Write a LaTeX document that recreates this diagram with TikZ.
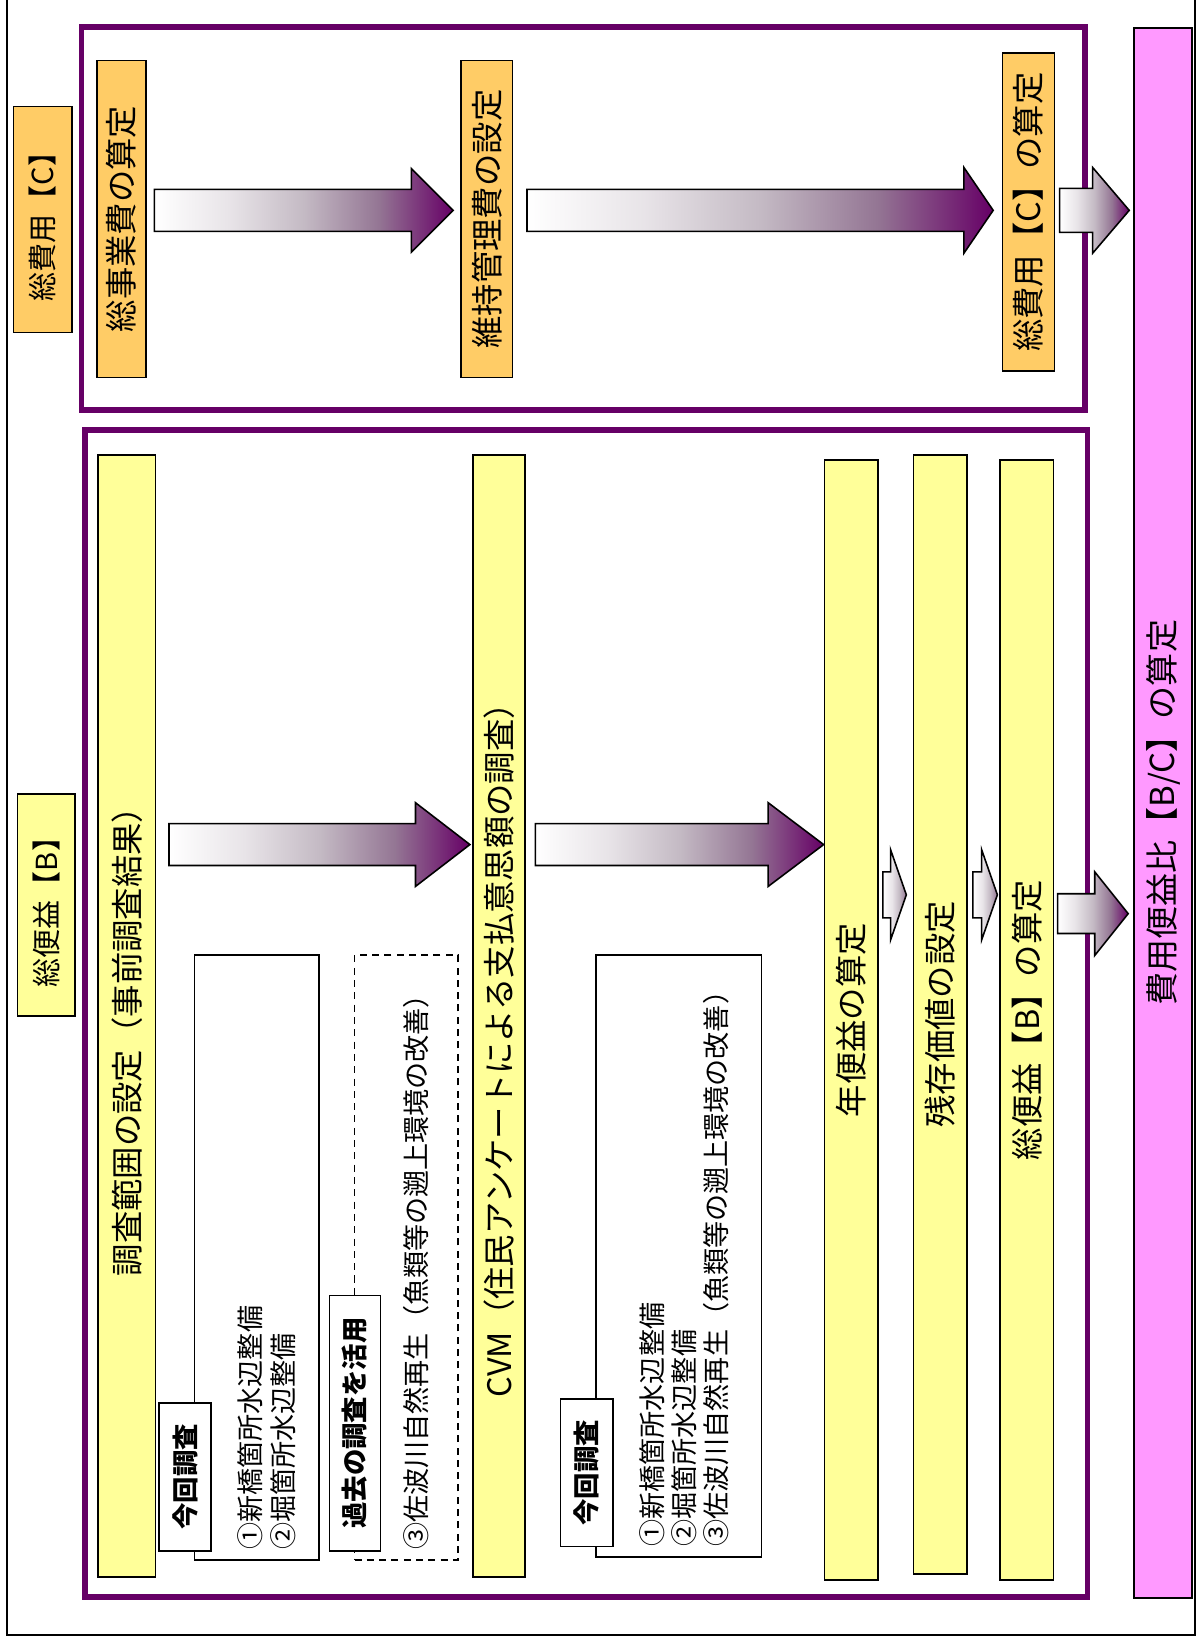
\documentclass[tikz,border=0pt]{standalone}
\usepackage{fontspec}
\setmainfont{Noto Sans CJK JP}
\usepackage{graphicx}
\usetikzlibrary{calc}

\definecolor{framepurple}{RGB}{102,0,102}
\definecolor{fadelight}{RGB}{232,228,232}
\definecolor{fadegray}{RGB}{196,186,196}
\definecolor{fademid}{RGB}{148,118,148}
\definecolor{costorange}{RGB}{255,204,102}
\definecolor{benefityellow}{RGB}{255,255,153}
\definecolor{ratiopink}{RGB}{255,153,255}

% white to purple along the arrow
\pgfdeclarehorizontalshading{arrowshade}{100bp}{color(0bp)=(white); color(25bp)=(white);
  color(37.5bp)=(fadelight); color(50bp)=(fadegray); color(62.5bp)=(fademid);
  color(75bp)=(framepurple); color(100bp)=(framepurple)}
\pgfdeclarehorizontalshading{smallshade}{100bp}{color(0bp)=(white); color(25bp)=(white);
  color(45bp)=(fadelight); color(60bp)=(fadegray); color(75bp)=(fademid); color(100bp)=(fademid)}

% one pixel of the sheet
\newcommand{\pxu}{0.020924cm}
\newcommand{\boxfont}{\fontsize{18.4}{22}\selectfont}
\newcommand{\listfont}{\fontsize{15.4}{18.4}\selectfont}
\newcommand{\tagfont}{\fontsize{15}{18}\selectfont\bfseries}
\newcommand{\labelfont}{\fontsize{16.5}{20}\selectfont}
\newcommand{\ratiofont}{\fontsize{18.8}{22}\selectfont}

% block arrow: start, tip, half shaft, half head, head length, style
\newcommand{\fatarrow}[6]{%
  \shade[#6] let \p1=#1, \p2=#2 in
    (\x1,\y1+#3) -- (\x2-#5,\y1+#3) -- (\x2-#5,\y1+#4) -- (\x2,\y1)
    -- (\x2-#5,\y1-#4) -- (\x2-#5,\y1-#3) -- (\x1,\y1-#3) -- cycle;}

\tikzset{
  box/.style={draw=black, line width=0.9pt, inner sep=0pt, anchor=north west, font=\boxfont},
  orangebox/.style={box, fill=costorange},
  yellowbox/.style={box, fill=benefityellow},
  whitebox/.style={box, fill=white},
  tagbox/.style={box, fill=white, font=\tagfont},
  listtext/.style={rotate=90, anchor=west, align=left, inner sep=0pt, font=\listfont},
  frame/.style={draw=framepurple, line width=3.2pt},
  arrowfill/.style={draw=black, line width=0.9pt, shading=arrowshade},
  smallfill/.style={draw=black, line width=0.9pt, shading=smallshade},
}

\begin{document}
\begin{tikzpicture}[x=\pxu, y=-\pxu]
  \useasboundingbox (0,0) rectangle (1148,1568);
  % sheet and group frames
  \draw[line width=1.2pt] (7,-10) rectangle (1142,1562);
  \draw[frame] (78,26) rectangle (1037,392);
  \draw[frame] (81,411) rectangle (1039,1526);

  % cost side
  \node[orangebox, minimum width=56*\pxu, minimum height=216*\pxu, font=\labelfont] (costlabel) at (12,101) {\rotatebox{90}{総費用【C】}};
  \node[orangebox, minimum width=47*\pxu, minimum height=303*\pxu] (projcost) at (92,57) {\rotatebox{90}{総事業費の算定}};
  \node[orangebox, minimum width=49*\pxu, minimum height=303*\pxu] (maintcost) at (440,57) {\rotatebox{90}{維持管理費の設定}};
  \node[orangebox, minimum width=50*\pxu, minimum height=304*\pxu] (totalcost) at (957,50) {\rotatebox{90}{総費用【C】の算定}};

  % ratio
  \node[box, fill=ratiopink, minimum width=55*\pxu, minimum height=1500*\pxu, font=\ratiofont] (ratio) at (1083,26) {\rotatebox{90}{費用便益比【B/C】の算定}};

  % benefit side
  \node[yellowbox, minimum width=55*\pxu, minimum height=212*\pxu, font=\labelfont] (benefitlabel) at (16,758) {\rotatebox{90}{総便益【B】}};
  \node[yellowbox, minimum width=55*\pxu, minimum height=1072*\pxu] (surveyrange) at (93,434) {\rotatebox{90}{調査範囲の設定（事前調査結果）\hspace{0.7cm}}};
  \node[yellowbox, minimum width=50*\pxu, minimum height=1072*\pxu] (cvm) at (451,434) {\rotatebox{90}{CVM（住民アンケートによる支払意思額の調査）\hspace{1.05cm}}};
  \node[yellowbox, minimum width=51*\pxu, minimum height=1070*\pxu] (annual) at (787,439) {\rotatebox{90}{年便益の算定}};
  \node[yellowbox, minimum width=51*\pxu, minimum height=1069*\pxu] (residual) at (872,434) {\rotatebox{90}{残存価値の設定}};
  \node[yellowbox, minimum width=51*\pxu, minimum height=1070*\pxu] (totalbenefit) at (955,439) {\rotatebox{90}{総便益【B】の算定}};

  % survey notes
  \node[whitebox, minimum width=119*\pxu, minimum height=578*\pxu] (surveyA) at (185,912) {};
  \node[tagbox, minimum width=50*\pxu, minimum height=141*\pxu] (surveyAtag) at (151,1340) {\rotatebox{90}{今回調査}};
  \node[listtext] (listA) at (255,1481) {①新橋箇所水辺整備\\②堀箇所水辺整備};

  \node[whitebox, dashed, dash pattern=on 4pt off 3pt, minimum width=99*\pxu, minimum height=578*\pxu] (pastbox) at (338,912) {};
  \node[tagbox, minimum width=49*\pxu, minimum height=244*\pxu] (pasttag) at (314,1237) {\rotatebox{90}{過去の調査を活用}};
  \node[listtext] (pastlist) at (398,1481) {③佐波川自然再生（魚類等の遡上環境の改善）};

  \node[whitebox, minimum width=158*\pxu, minimum height=575*\pxu] (surveyB) at (569,912) {};
  \node[tagbox, minimum width=50*\pxu, minimum height=141*\pxu] (surveyBtag) at (535,1336) {\rotatebox{90}{今回調査}};
  \node[listtext] (listB) at (654,1478) {①新橋箇所水辺整備\\②堀箇所水辺整備\\③佐波川自然再生（魚類等の遡上環境の改善）};

  % arrow rows
  \coordinate (uprow) at (0,201);
  \coordinate (lowrow) at (0,807);
  \coordinate (steprow) at (0,855);
  \coordinate (brow) at (0,873);

  \fatarrow{($(projcost.east |- uprow)+(7,0)$)}{($(maintcost.west |- uprow)+(-7,0)$)}{20*\pxu}{40*\pxu}{40*\pxu}{arrowfill}
  \fatarrow{($(maintcost.east |- uprow)+(13,0)$)}{($(totalcost.west |- uprow)+(-8,0)$)}{20*\pxu}{41*\pxu}{28*\pxu}{arrowfill}
  \fatarrow{($(totalcost.east |- uprow)+(4,0)$)}{($(ratio.west |- uprow)+(-4,0)$)}{21*\pxu}{41*\pxu}{35*\pxu}{arrowfill}

  \fatarrow{($(surveyrange.east |- lowrow)+(12,0)$)}{($(cvm.west |- lowrow)+(-2,0)$)}{20*\pxu}{40*\pxu}{52*\pxu}{arrowfill}
  \fatarrow{($(cvm.east |- lowrow)+(9,0)$)}{(annual.west |- lowrow)}{20*\pxu}{40*\pxu}{53*\pxu}{arrowfill}
  \fatarrow{($(annual.east |- steprow)+(4,0)$)}{($(residual.west |- steprow)+(-6,0)$)}{22*\pxu}{43*\pxu}{15*\pxu}{smallfill}
  \fatarrow{($(residual.east |- steprow)+(5,0)$)}{($(totalbenefit.west |- steprow)+(-2,0)$)}{22*\pxu}{43*\pxu}{15*\pxu}{smallfill}
  \fatarrow{($(totalbenefit.east |- brow)+(3,0)$)}{($(ratio.west |- brow)+(-5,0)$)}{19*\pxu}{40*\pxu}{32*\pxu}{arrowfill}
\end{tikzpicture}
\end{document}
